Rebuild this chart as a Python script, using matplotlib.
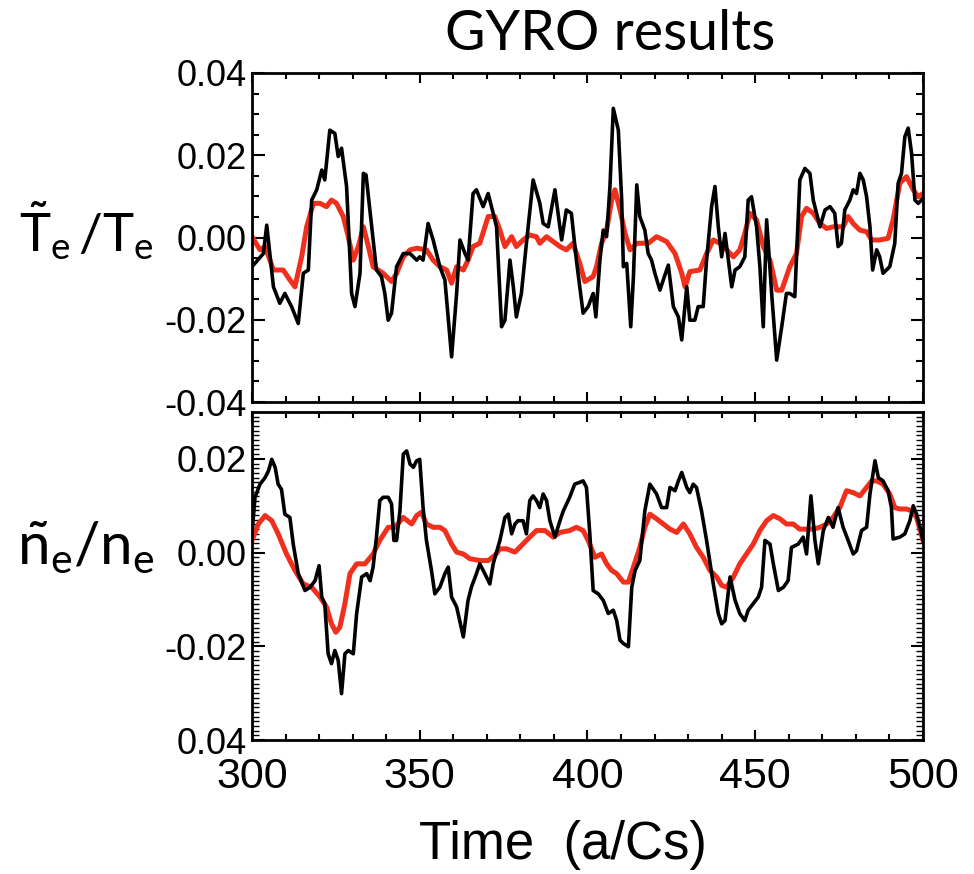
import numpy as np
import matplotlib
matplotlib.use("Agg")
from matplotlib import pyplot as plt
from matplotlib.ticker import MultipleLocator, FixedLocator

# electron temperature fluctuation: raw GYRO signal
te_raw_t = [300.0, 303.4, 304.4, 306.4, 308.3, 309.8, 311.8, 313.8, 315.3, 316.8,
            317.8, 319.3, 320.8, 321.7, 323.2, 324.7, 325.7, 326.7, 328.2, 329.7,
            330.7, 332.2, 333.2, 334.0, 335.7, 337.1, 338.6, 339.6, 340.6, 341.6,
            343.1, 345.1, 347.1, 349.1, 350.0, 351.0, 352.5, 354.0, 356.0, 357.5,
            359.5, 361.0, 362.0, 363.5, 364.4, 365.9, 366.9, 368.9, 370.4, 372.9,
            374.4, 375.4, 376.9, 377.9, 378.8, 380.3, 381.8, 383.8, 385.8, 386.8,
            388.3, 390.3, 391.8, 392.3, 393.7, 395.2, 396.7, 398.7, 400.2,
            401.7, 402.5, 403.7, 404.7, 405.7, 406.7, 407.7, 409.2, 410.2, 410.7,
            411.7, 412.9, 413.7, 414.7, 415.6, 417.1, 418.1, 419.1, 420.1, 421.6,
            422.6, 424.1, 425.6, 427.1, 428.1, 429.6, 430.5, 432.0, 433.0, 434.5,
            435.5, 437.0, 438.0, 439.0, 440.0, 441.0, 442.0, 443.0, 444.0, 445.4,
            446.9, 447.9, 448.9, 450.4, 451.4, 452.4, 453.4, 454.9, 456.4, 457.9,
            459.3, 460.3, 461.8, 463.3, 464.8, 466.3, 467.3, 469.3, 470.8, 472.3,
            473.7, 474.7, 475.7, 476.7, 478.2, 479.2, 480.2, 481.2, 482.2, 483.2,
            484.2, 485.0, 486.2, 487.1, 488.1, 490.1, 491.6, 492.6, 493.6, 494.6,
            495.6, 496.6, 497.6, 498.6, 500.0]
te_raw = [-0.0071, -0.0039, 0.0030, -0.0120, -0.0160, -0.0136, -0.0168, -0.0209, -0.0087, -0.0079,
          0.0091, 0.0116, 0.0164, 0.0140, 0.0261, 0.0253, 0.0197, 0.0217, 0.0124, -0.0136,
          -0.0168, -0.0087, 0.0156, 0.0152, 0.0026, -0.0079, -0.0095, -0.0136, -0.0201, -0.0184,
          -0.0071, -0.0039, -0.0039, -0.0055, -0.0047, -0.0055, 0.0034, -0.0006, -0.0071, -0.0103,
          -0.0290, -0.0136, -0.0006, -0.0039, -0.0055, 0.0107, 0.0116, 0.0075, 0.0107, 0.0026,
          -0.0217, -0.0201, -0.0055, -0.0120, -0.0193, -0.0136, -0.0014, 0.0140, 0.0083, 0.0034,
          0.0026, 0.0116, 0.0026, -0.0006, 0.0067, 0.0059, -0.0055, -0.0184, -0.0168,
          -0.0136, -0.0193, -0.0055, 0.0018, 0.0002, 0.0124, 0.0314, 0.0261, 0.0091, -0.0071,
          -0.0063, -0.0217, -0.0095, 0.0128, 0.0051, 0.0018, -0.0039, -0.0055, -0.0087, -0.0128,
          -0.0103, -0.0067, -0.0168, -0.0193, -0.0249, -0.0120, -0.0201, -0.0201, -0.0168, -0.0168,
          -0.0055, 0.0075, 0.0124, 0.0026, -0.0047, 0.0010, -0.0055, -0.0120, -0.0079, -0.0071,
          -0.0047, 0.0091, 0.0099, 0.0026, -0.0071, -0.0217, 0.0043, -0.0136, -0.0298, -0.0217,
          -0.0136, -0.0136, -0.0144, 0.0140, 0.0168, 0.0156, 0.0091, 0.0026, 0.0067, 0.0075,
          0.0059, -0.0022, -0.0014, 0.0067, 0.0091, 0.0116, 0.0107, 0.0156, 0.0140, 0.0099,
          0.0026, -0.0079, -0.0030, -0.0047, -0.0087, -0.0071, -0.0014, 0.0132, 0.0156, 0.0245,
          0.0266, 0.0205, 0.0091, 0.0083, 0.0095]

# electron temperature fluctuation: filtered (synthetic diagnostic)
te_filt_t = [300.0, 302.4, 303.9, 306.4, 309.3, 311.3, 312.8, 314.8, 316.3, 318.3,
             320.3, 322.2, 323.7, 325.2, 327.2, 328.7, 330.2, 331.7, 333.2, 334.7,
             336.1, 339.1, 341.6, 343.1, 345.1, 347.1, 349.1, 352.0, 354.0, 356.0,
             358.0, 359.5, 361.0, 363.0, 364.4, 365.9, 367.9, 370.4, 372.4, 373.9,
             375.4, 377.4, 378.8, 380.8, 382.8, 384.8, 385.8, 387.8, 389.8, 391.8,
             393.7, 395.7, 397.7, 399.2, 401.7, 402.7, 404.2, 405.7, 407.2, 408.2,
             409.7, 411.2, 412.7, 414.7, 418.1, 420.6, 423.6, 426.1, 428.1, 429.1,
             430.5, 433.5, 435.5, 437.5, 439.5, 441.5, 443.5, 445.4, 446.9, 448.4,
             450.4, 452.4, 454.4, 456.4, 457.9, 460.3, 462.3, 463.8, 465.3, 467.3,
             469.3, 471.3, 473.2, 476.2, 477.7, 479.2, 481.2, 483.2, 484.7, 487.1,
             489.6, 491.1, 493.1, 495.1, 497.1, 498.6, 500.0]
te_filt = [0.0002, -0.0030, -0.0022, -0.0079, -0.0079, -0.0103, -0.0120, -0.0047, 0.0026, 0.0083,
           0.0083, 0.0075, 0.0091, 0.0083, 0.0051, 0.0002, -0.0055, -0.0022, 0.0026, -0.0022,
           -0.0071, -0.0087, -0.0107, -0.0087, -0.0047, -0.0030, -0.0026, -0.0030, -0.0055, -0.0071,
           -0.0079, -0.0111, -0.0071, -0.0079, -0.0055, -0.0022, -0.0014, 0.0051, 0.0051, 0.0018,
           -0.0022, 0.0002, -0.0022, -0.0006, 0.0006, 0.0002, -0.0014, 0.0002, -0.0010, -0.0022,
           -0.0030, -0.0014, -0.0063, -0.0107, -0.0095, -0.0071, -0.0014, 0.0018, 0.0091, 0.0116,
           0.0067, 0.0010, -0.0030, -0.0014, -0.0014, 0.0002, -0.0010, -0.0039, -0.0087, -0.0120,
           -0.0083, -0.0079, -0.0039, -0.0006, -0.0014, -0.0030, -0.0047, -0.0030, 0.0010, 0.0059,
           0.0043, -0.0022, -0.0055, -0.0128, -0.0128, -0.0071, -0.0039, 0.0051, 0.0071, 0.0059,
           0.0034, 0.0022, 0.0026, 0.0026, 0.0051, 0.0034, 0.0018, 0.0014, -0.0006, -0.0006,
           -0.0002, 0.0043, 0.0132, 0.0148, 0.0116, 0.0099, 0.0107]

# electron density fluctuation: raw GYRO signal
ne_raw_t = [300.0, 300.9, 302.4, 303.9, 304.9, 305.9, 306.9, 307.8, 308.8, 309.8,
            311.3, 312.3, 313.8, 315.8, 317.3, 318.8, 320.0, 320.8, 321.7, 322.7,
            323.7, 324.7, 325.7, 326.7, 327.7, 328.7, 330.2, 331.2, 332.7, 334.2,
            335.2, 336.1, 337.1, 338.1, 339.1, 340.6, 341.6, 342.3, 343.1, 344.1,
            345.1, 346.1, 347.1, 348.1, 349.1, 350.0, 351.0, 352.0, 353.5, 354.5,
            356.0, 357.5, 358.5, 359.5, 361.0, 363.0, 364.4, 365.4, 366.9, 367.9,
            369.4, 370.9, 371.9, 373.9, 375.4, 376.4, 377.4, 378.4, 379.3, 380.8,
            381.8, 382.8, 383.8, 384.8, 385.8, 386.8, 387.8, 388.8, 390.3, 391.8,
            392.8, 394.7, 396.2, 397.7, 398.7, 399.7, 400.7,
            401.7, 403.2, 404.7, 406.2, 407.7, 408.7, 409.7, 410.7, 412.2, 413.2,
            414.2, 415.6, 417.1, 418.6, 420.6, 422.1, 423.6, 424.6, 426.1, 427.1,
            428.1, 429.6, 430.5, 431.5, 432.5, 434.0, 435.5, 437.5, 439.0, 440.0,
            441.0, 442.5, 444.0, 445.4, 446.9, 447.9, 449.4, 450.9, 451.9, 452.9,
            454.4, 455.4, 456.9, 458.4, 459.8, 460.8, 462.8, 464.3, 465.3, 466.6,
            467.8, 468.8, 470.3, 471.8, 473.2, 474.7, 476.2, 477.7, 479.2, 480.2,
            481.7, 483.2, 484.2, 485.7, 486.7, 488.1, 489.6, 490.6, 491.1, 493.1,
            494.6, 496.1, 497.1, 498.1, 499.1, 500.0]
ne_raw = [0.0040, 0.0118, 0.0146, 0.0160, 0.0174, 0.0199, 0.0182, 0.0146, 0.0135, 0.0082,
          0.0075, 0.0018, -0.0045, -0.0081, -0.0074, -0.0060, -0.0028, -0.0095, -0.0109, -0.0216,
          -0.0237, -0.0209, -0.0230, -0.0301, -0.0216, -0.0209, -0.0216, -0.0130, -0.0052, -0.0045,
          -0.0060, -0.0031, 0.0033, 0.0111, 0.0118, 0.0118, 0.0104, 0.0026, 0.0026, 0.0089,
          0.0210, 0.0217, 0.0189, 0.0182, 0.0196, 0.0199, 0.0096, 0.0026, -0.0038, -0.0088,
          -0.0074, -0.0045, -0.0031, -0.0095, -0.0116, -0.0180, -0.0102, -0.0074, -0.0045, -0.0024,
          -0.0045, -0.0067, -0.0024, 0.0026, 0.0075, 0.0082, 0.0040, 0.0061, 0.0068, 0.0068,
          0.0040, 0.0111, 0.0121, 0.0111, 0.0096, 0.0125, 0.0111, 0.0068, 0.0033, 0.0068,
          0.0089, 0.0118, 0.0146, 0.0150, 0.0153, 0.0139, 0.0040,
          -0.0081, -0.0088, -0.0102, -0.0130, -0.0123, -0.0145, -0.0187, -0.0194, -0.0201, -0.0074,
          -0.0038, -0.0017, 0.0089, 0.0146, 0.0125, 0.0096, 0.0096, 0.0139, 0.0132, 0.0153,
          0.0171, 0.0139, 0.0128, 0.0146, 0.0139, 0.0089, 0.0026, -0.0067, -0.0130, -0.0152,
          -0.0145, -0.0052, -0.0102, -0.0130, -0.0145, -0.0123, -0.0109, -0.0095, -0.0074, 0.0026,
          0.0018, -0.0024, -0.0081, -0.0074, -0.0060, 0.0011, 0.0018, 0.0033, -0.0003, 0.0121,
          0.0026, -0.0024, 0.0047, 0.0075, 0.0054, 0.0096, 0.0054, 0.0026, -0.0003, 0.0004,
          0.0047, 0.0054, 0.0125, 0.0196, 0.0160, 0.0153, 0.0132, 0.0096, 0.0029, 0.0033,
          0.0040, 0.0068, 0.0100, 0.0082, 0.0054, 0.0026]

# electron density fluctuation: filtered (synthetic diagnostic)
ne_filt_t = [300.0, 301.9, 303.9, 305.9, 307.8, 310.3, 312.8, 315.3, 317.8, 320.3,
             322.2, 323.7, 325.0, 326.2, 327.7, 329.2, 331.2, 333.7, 336.1, 338.1,
             340.6, 342.6, 345.1, 347.6, 349.1, 350.5, 352.0, 354.0, 356.0, 357.5,
             359.5, 361.0, 363.0, 364.9, 367.9, 370.4, 372.4, 373.9, 375.9, 378.4,
             380.3, 382.8, 384.8, 387.3, 389.8, 391.8, 394.7, 396.7, 398.7, 400.2,
             402.2, 404.2, 405.7, 407.2, 408.7, 410.7, 412.2, 413.7, 415.6, 417.1,
             418.6, 420.6, 422.6, 424.6, 426.6, 428.6, 430.5, 432.5, 434.5, 436.5,
             438.5, 440.0, 441.5, 443.5, 445.4, 447.4, 449.4, 451.4, 453.4, 455.4,
             457.4, 459.3, 461.3, 463.3, 465.3, 467.3, 469.3, 471.3, 473.2, 475.2,
             477.2, 479.2, 481.2, 483.2, 484.7, 486.2, 488.1, 490.1, 491.6, 493.1,
             495.1, 496.6, 498.1, 500.0]
ne_filt = [0.0026, 0.0061, 0.0079, 0.0068, 0.0040, -0.0003, -0.0038, -0.0067, -0.0074, -0.0095,
           -0.0116, -0.0152, -0.0170, -0.0159, -0.0109, -0.0045, -0.0024, -0.0024, -0.0003, 0.0026,
           0.0054, 0.0054, 0.0075, 0.0061, 0.0079, 0.0086, 0.0061, 0.0054, 0.0054, 0.0047,
           0.0018, 0.0001, -0.0003, -0.0013, -0.0017, -0.0017, -0.0006, 0.0008, 0.0008, 0.0001,
           0.0015, 0.0033, 0.0047, 0.0047, 0.0033, 0.0043, 0.0047, 0.0054, 0.0047, 0.0026,
           -0.0010, -0.0003, -0.0024, -0.0038, -0.0045, -0.0063, -0.0063, -0.0031, 0.0011, 0.0054,
           0.0082, 0.0072, 0.0061, 0.0050, 0.0043, 0.0061, 0.0040, 0.0011, -0.0010, -0.0038,
           -0.0052, -0.0070, -0.0074, -0.0052, -0.0024, -0.0003, 0.0018, 0.0047, 0.0068, 0.0079,
           0.0072, 0.0061, 0.0061, 0.0050, 0.0050, 0.0050, 0.0054, 0.0061, 0.0075, 0.0096,
           0.0132, 0.0128, 0.0121, 0.0139, 0.0153, 0.0153, 0.0146, 0.0125, 0.0096, 0.0093,
           0.0093, 0.0089, 0.0075, 0.0026]

x_ticks = [300, 350, 400, 450, 500]
te_ticks = [0.04, 0.02, 0.00, -0.02, -0.04]
te_tick_labels = ["0.04", "0.02", "0.00", "-0.02", "-0.04"]
ne_ticks = [0.02, 0.00, -0.02, -0.04]
ne_tick_labels = ["0.02", "0.00", "-0.02", "0.04"]

RED = "#f0301c"
TICK_FONT = "Liberation Sans"

plt.rcParams["mathtext.fontset"] = "custom"
plt.rcParams["mathtext.rm"] = "Lato"
plt.rcParams["mathtext.it"] = "Lato:italic"
plt.rcParams["mathtext.bf"] = "Lato:bold"

fig = plt.figure(figsize=(9.74, 8.74), dpi=100)
ax_te = fig.add_axes([0.2587, 0.5400, 0.6889, 0.3765])
ax_ne = fig.add_axes([0.2587, 0.1533, 0.6889, 0.3753])


def style_axes(ax):
    ax.set_xlim(300, 500)
    ax.xaxis.set_major_locator(FixedLocator(x_ticks))
    ax.xaxis.set_minor_locator(MultipleLocator(10))
    for sp in ax.spines.values():
        sp.set_linewidth(2.0)
    ax.tick_params(which="both", direction="in", top=True, right=True, width=1.5)
    ax.tick_params(axis="x", which="major", length=7, pad=12)
    ax.tick_params(axis="x", which="minor", length=4)
    ax.tick_params(axis="y", which="major", length=9, pad=4)


# top panel: temperature
ax_te.plot(te_filt_t, te_filt, color=RED, lw=3.6, solid_joinstyle="round")
ax_te.plot(te_raw_t, te_raw, color="black", lw=2.6, solid_joinstyle="round")
ax_te.set_ylim(-0.04, 0.04)
style_axes(ax_te)
ax_te.yaxis.set_minor_locator(MultipleLocator(0.005))
ax_te.tick_params(axis="y", which="minor", length=5)
ax_te.tick_params(axis="x", labelbottom=False)
ax_te.set_yticks(te_ticks)
ax_te.set_yticklabels(te_tick_labels, fontfamily=TICK_FONT, fontsize=26)

# bottom panel: density
ax_ne.plot(ne_filt_t, ne_filt, color=RED, lw=3.6, solid_joinstyle="round")
ax_ne.plot(ne_raw_t, ne_raw, color="black", lw=2.6, solid_joinstyle="round")
ax_ne.set_ylim(-0.04, 0.03)
style_axes(ax_ne)
ax_ne.yaxis.set_minor_locator(MultipleLocator(0.001))
ax_ne.tick_params(axis="y", which="minor", length=5, width=1.0)
ax_ne.set_yticks(ne_ticks)
ax_ne.set_yticklabels(ne_tick_labels, fontfamily=TICK_FONT, fontsize=26)
ax_ne.set_xticks(x_ticks)
ax_ne.set_xticklabels([str(v) for v in x_ticks], fontfamily=TICK_FONT, fontsize=31)

fig.text(610 / 974, 1 - 35 / 874, "GYRO results", family="Lato", fontsize=40,
         ha="center", va="center")
fig.text(563 / 974, 1 - 845 / 874, "Time  (a/Cs)", family=TICK_FONT, fontsize=38,
         ha="center", va="center")
fig.text(86 / 974, 1 - 232 / 874, r"$\tilde{\mathrm{T}}_\mathrm{e}\,/\mathrm{T}_\mathrm{e}$",
         fontsize=38, ha="center", va="center")
fig.text(86 / 974, 1 - 548 / 874, r"$\tilde{\mathrm{n}}_\mathrm{e}/\mathrm{n}_\mathrm{e}$",
         fontsize=42, ha="center", va="center")

fig.savefig("out.png", dpi=100)
